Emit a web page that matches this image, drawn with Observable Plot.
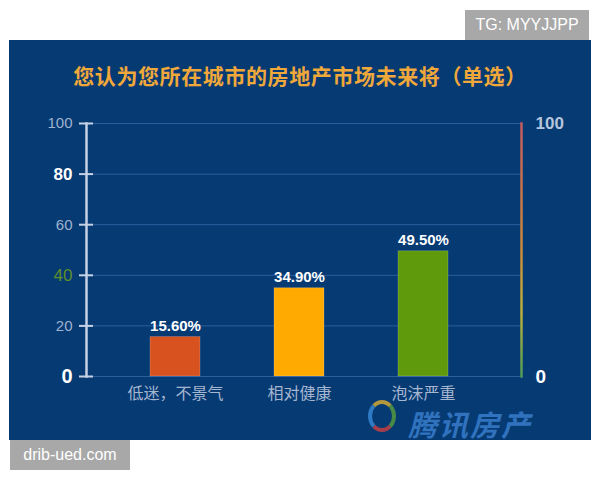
<!DOCTYPE html>
<html>
<head>
<meta charset="utf-8">
<script src="https://cdn.jsdelivr.net/npm/d3@7"></script>
<script src="https://cdn.jsdelivr.net/npm/@observablehq/plot@0.6"></script>
<style>
  html, body { margin: 0; padding: 0; background: #ffffff; }
  body { width: 600px; height: 480px; position: relative; overflow: hidden;
         font-family: "Noto Sans CJK SC", "Noto Sans", sans-serif; }
  #panel { position: absolute; left: 9px; top: 40px; width: 582px; height: 400px; background: #063a73; }
  #title { position: absolute; left: 0; top: 20px; width: 582px; text-align: center;
           color: #f0a83a; font-size: 21px; font-weight: bold; letter-spacing: 0.6px; }
  #chart { position: absolute; left: 0; top: 0; }
  .tag { position: absolute; background: #a8a8a8; color: #ffffff; font-family: "Liberation Sans", Arial, sans-serif;
         font-size: 16px; line-height: 30px; text-align: center; }
  #tg { left: 465px; top: 10px; width: 124px; height: 30px; }
  #drib { left: 10px; top: 440px; width: 120px; height: 30px; }
  #ring { position: absolute; left: 359px; top: 360px; width: 20px; height: 24px; border-radius: 50%;
          border: 4px solid; border-color: #e0b030 #5aa03c #d04040 #3a8ad8; opacity: 0.8; }
  #logotxt { position: absolute; left: 399px; top: 369px; color: #3f85d6; font-size: 29px; line-height: 28px;
             font-style: italic; font-weight: bold; opacity: 0.75; letter-spacing: 2px; white-space: nowrap; }
</style>
</head>
<body>
<div id="tg" class="tag">TG: MYYJJPP</div>
<div id="panel">
  <div id="chart"></div>
  <div id="title">您认为您所在城市的房地产市场未来将（单选）</div>
  <div id="ring"></div>
  <div id="logotxt">腾讯房产</div>
</div>
<div id="drib" class="tag">drib-ued.com</div>
<script>
const categories = ["低迷，不景气", "相对健康", "泡沫严重"];
const values = [15.6, 34.9, 49.5];
const valueLabels = ["15.60%", "34.90%", "49.50%"];
const leftTicks = [0, 20, 40, 60, 80, 100];
const rightTicks = [0, 100];

const barColors = ["#d8521f", "#ffaa00", "#5f9a0c"];
const leftTickFill = {0: "#ffffff", 20: "#9fb3cf", 40: "#5f8f2c", 60: "#9fb3cf", 80: "#ffffff", 100: "#9fb3cf"};
const leftTickSize = {0: 20, 20: 15, 40: 17, 60: 15, 80: 17, 100: 15};
const leftTickWeight = {0: "bold", 20: "normal", 40: "normal", 60: "normal", 80: "bold", 100: "normal"};
const rightTickFill = {0: "#ffffff", 100: "#b6c6dc"};

const rows = categories.map((c, i) => ({category: c, value: values[i], label: valueLabels[i], color: barColors[i]}));

const chart = Plot.plot({
  width: 582,
  height: 400,
  marginTop: 83,
  marginBottom: 64,
  marginLeft: 77,
  marginRight: 70,
  style: {background: "transparent", fontFamily: "'Noto Sans CJK SC', 'Noto Sans', sans-serif"},
  x: {domain: categories, range: [104, 476], paddingInner: 0.6, paddingOuter: 0.3, label: null},
  y: {domain: [0, 100], label: null},
  marks: [
    Plot.gridY(leftTicks, {stroke: "#3d6eae", strokeOpacity: 0.7, strokeWidth: 1, insetLeft: 7}),
    Plot.barY(rows, {x: "category", y: "value", fill: "color", stroke: "#ffffff", strokeOpacity: 0.18, strokeWidth: 1}),
    Plot.text(rows, {x: "category", y: "value", text: "label", fill: "#ffffff", fontWeight: "bold",
      fontSize: 15, lineAnchor: "bottom", dy: -6, fontFamily: "'Liberation Sans', Arial, sans-serif"}),
    Plot.frame({anchor: "left", stroke: "#c5d1e4", strokeWidth: 2.5}),
    Plot.frame({anchor: "right", stroke: "url(#rightAxisGrad)", strokeWidth: 2.5}),
    Plot.axisY(leftTicks, {tickSize: 14, dx: 7, text: null, stroke: "#c5d1e4", strokeWidth: 2, label: null}),
    ...leftTicks.map(t => Plot.text([t], {y: d => d, text: d => String(d), frameAnchor: "left", textAnchor: "end",
      dx: -14, fill: leftTickFill[t], fontSize: leftTickSize[t], fontWeight: leftTickWeight[t],
      fontFamily: "'Liberation Sans', Arial, sans-serif"})),
    ...rightTicks.map(t => Plot.text([t], {y: d => d, text: d => String(d), frameAnchor: "right", textAnchor: "start",
      dx: 14, fill: rightTickFill[t], fontSize: t === 0 ? 19 : 17, fontWeight: "bold",
      fontFamily: "'Liberation Sans', Arial, sans-serif"})),
    Plot.axisX({tickSize: 0, tickPadding: 11, fontSize: 16, fill: "#a5b6d0", label: null})
  ]
});

// gradient for the right axis line
const ns = "http://www.w3.org/2000/svg";
const defs = document.createElementNS(ns, "defs");
const grad = document.createElementNS(ns, "linearGradient");
grad.setAttribute("id", "rightAxisGrad");
grad.setAttribute("gradientUnits", "userSpaceOnUse");
grad.setAttribute("x1", "0"); grad.setAttribute("x2", "0");
grad.setAttribute("y1", "83"); grad.setAttribute("y2", "336");
[["0%", "#c25a5e"], ["50%", "#c98a3a"], ["75%", "#b8b03a"], ["100%", "#4f9a58"]].forEach(([o, c]) => {
  const s = document.createElementNS(ns, "stop");
  s.setAttribute("offset", o); s.setAttribute("stop-color", c);
  grad.appendChild(s);
});
defs.appendChild(grad);
chart.insertBefore(defs, chart.firstChild);

document.getElementById("chart").appendChild(chart);
</script>
</body>
</html>
